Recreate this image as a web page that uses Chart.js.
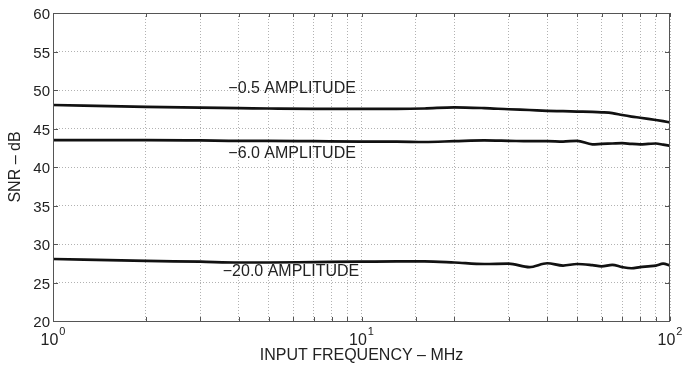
<!DOCTYPE html>
<html>
    <head>
        <meta charset="UTF-8" />
        <title>SNR vs Input Frequency</title>
        <script src="https://cdn.jsdelivr.net/npm/chart.js@4.4.2/dist/chart.umd.min.js"></script>
        <style>
            html, body {
                margin: 0;
                padding: 0;
                background: #ffffff;
            }

            .container {
                width: 683px;
                height: 369px;
            }
        </style>
    </head>
    <body>
        <div class="container">
            <canvas id="snrChart" width="683" height="369"></canvas>
        </div>

        <script>
            // --- data ---
            var freqMHz = [1, 2, 3, 4, 5, 7, 10, 13, 16, 20, 25, 30, 35, 40, 45, 50, 56, 60, 65, 70, 75, 80, 85, 90, 95, 100];

            var snrAmp05 = [48.05, 47.8, 47.7, 47.65, 47.6, 47.55, 47.55, 47.55, 47.6, 47.75, 47.65, 47.5, 47.4, 47.3, 47.25, 47.2, 47.15, 47.1, 47.0, 46.75, 46.55, 46.4, 46.25, 46.1, 45.95, 45.8];
            var snrAmp60 = [43.5, 43.5, 43.45, 43.4, 43.4, 43.35, 43.3, 43.3, 43.25, 43.35, 43.45, 43.4, 43.35, 43.35, 43.3, 43.4, 42.95, 43.0, 43.05, 43.1, 43.0, 42.95, 43.0, 43.05, 42.9, 42.75];
            var snrAmp200 = [28.05, 27.8, 27.7, 27.6, 27.6, 27.65, 27.7, 27.75, 27.75, 27.6, 27.4, 27.45, 27.0, 27.5, 27.2, 27.4, 27.25, 27.1, 27.3, 27.0, 26.85, 27.0, 27.1, 27.2, 27.45, 27.2];

            var seriesLabels = ["\u22120.5 AMPLITUDE", "\u22126.0 AMPLITUDE", "\u221220.0 AMPLITUDE"];
            // label anchors, in data units (MHz, dB)
            var labelFreq = [3.7, 3.7, 3.55];
            var labelSnr = [50.2, 41.8, 26.4];

            var xDecades = [1, 10, 100];
            var xExponents = ["0", "1", "2"];

            var fontFamily = "'Liberation Sans', Arial, sans-serif";
            var textColor = "#222";

            function toPoints(xs, ys) {
                var pts = [];
                for (var i = 0; i < xs.length; i++) {
                    pts.push({ x: xs[i], y: ys[i] });
                }
                return pts;
            }

            function lineSet(label, values) {
                return {
                    label: label,
                    data: toPoints(freqMHz, values),
                    borderColor: "#111",
                    borderWidth: 2.7,
                    pointRadius: 0,
                    fill: false,
                    cubicInterpolationMode: "monotone",
                };
            }

            // frame, inner tick marks, decade labels and curve labels
            var plotDecor = {
                id: "plotDecor",
                afterDraw: function (chart) {
                    var ctx = chart.ctx;
                    var area = chart.chartArea;
                    var xs = chart.scales.x;
                    var ys = chart.scales.y;

                    ctx.save();
                    ctx.strokeStyle = "#555";
                    ctx.lineWidth = 1;
                    ctx.strokeRect(area.left + 0.5, area.top + 0.5, area.right - area.left - 1, area.bottom - area.top);

                    ctx.beginPath();
                    xs.ticks.forEach(function (t) {
                        var px = Math.round(xs.getPixelForValue(t.value)) + 0.5;
                        ctx.moveTo(px, area.bottom);
                        ctx.lineTo(px, area.bottom - 4);
                        ctx.moveTo(px, area.top);
                        ctx.lineTo(px, area.top + 4);
                    });
                    ys.ticks.forEach(function (t) {
                        var py = Math.round(ys.getPixelForValue(t.value)) + 0.5;
                        ctx.moveTo(area.left, py);
                        ctx.lineTo(area.left + 5, py);
                        ctx.moveTo(area.right, py);
                        ctx.lineTo(area.right - 5, py);
                    });
                    ctx.stroke();

                    // 10^n labels
                    ctx.fillStyle = textColor;
                    ctx.textBaseline = "alphabetic";
                    ctx.textAlign = "left";
                    for (var i = 0; i < xDecades.length; i++) {
                        var cx = xs.getPixelForValue(xDecades[i]);
                        ctx.font = "16px " + fontFamily;
                        var wBase = ctx.measureText("10").width;
                        ctx.font = "11px " + fontFamily;
                        var wExp = ctx.measureText(xExponents[i]).width;
                        var start = cx - (wBase + wExp + 1) / 2;
                        ctx.font = "16px " + fontFamily;
                        ctx.fillText("10", start, area.bottom + 24);
                        ctx.font = "11px " + fontFamily;
                        ctx.fillText(xExponents[i], start + wBase + 1, area.bottom + 14);
                    }

                    // curve labels
                    ctx.font = "16px " + fontFamily;
                    ctx.textBaseline = "middle";
                    for (var j = 0; j < seriesLabels.length; j++) {
                        ctx.fillText(seriesLabels[j], xs.getPixelForValue(labelFreq[j]), ys.getPixelForValue(labelSnr[j]));
                    }
                    ctx.restore();
                },
            };

            var ctx = document.getElementById("snrChart").getContext("2d");
            var snrChart = new Chart(ctx, {
                type: "line",
                plugins: [plotDecor],
                data: {
                    datasets: [
                        lineSet(seriesLabels[0], snrAmp05),
                        lineSet(seriesLabels[1], snrAmp60),
                        lineSet(seriesLabels[2], snrAmp200),
                    ],
                },
                options: {
                    responsive: false,
                    animation: false,
                    layout: {
                        padding: { top: 13, right: 13, left: 0, bottom: 0 },
                    },
                    plugins: {
                        legend: { display: false },
                        tooltip: { enabled: false },
                    },
                    scales: {
                        x: {
                            type: "logarithmic",
                            min: 1,
                            max: 100,
                            afterFit: function (scale) {
                                scale.height = 48;
                            },
                            ticks: {
                                autoSkip: false,
                                maxRotation: 0,
                                callback: function () {
                                    return "";
                                },
                            },
                            grid: {
                                color: "rgba(0,0,0,0.3)",
                                lineWidth: 1,
                                drawTicks: false,
                            },
                            border: { display: false, dash: [1, 2] },
                            title: {
                                display: true,
                                text: "INPUT FREQUENCY \u2013 MHz",
                                color: textColor,
                                font: { family: fontFamily, size: 16 },
                                padding: { top: 0, bottom: 4 },
                            },
                        },
                        y: {
                            min: 20,
                            max: 60,
                            afterFit: function (scale) {
                                scale.width = 53;
                            },
                            ticks: {
                                stepSize: 5,
                                color: textColor,
                                padding: 3,
                                labelOffset: 2,
                                font: { family: fontFamily, size: 15 },
                            },
                            grid: {
                                color: "rgba(0,0,0,0.3)",
                                lineWidth: 1,
                                drawTicks: false,
                            },
                            border: { display: false, dash: [1, 2] },
                            title: {
                                display: true,
                                text: "SNR \u2013 dB",
                                color: textColor,
                                font: { family: fontFamily, size: 16 },
                                padding: { top: 6, bottom: 0 },
                            },
                        },
                    },
                },
            });
        </script>
    </body>
</html>
